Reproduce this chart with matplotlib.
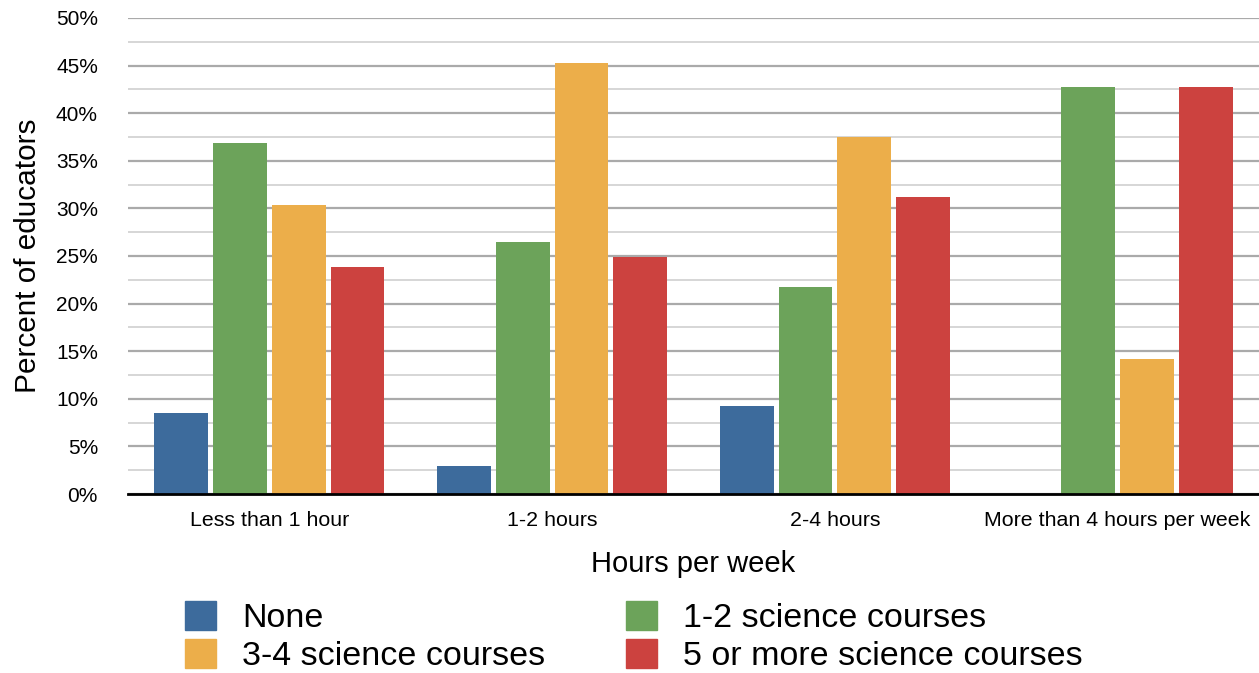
import matplotlib
matplotlib.use("Agg")
import matplotlib.pyplot as plt
import numpy as np
from matplotlib.patches import Patch

categories = ["Less than 1 hour", "1-2 hours", "2-4 hours", "More than 4 hours per week"]
series_names = ["None", "1-2 science courses", "3-4 science courses", "5 or more science courses"]
none_vals = [8.5, 2.9, 9.2, 0.0]
one_two_vals = [36.9, 26.5, 21.7, 42.8]
three_four_vals = [30.4, 45.3, 37.5, 14.2]
five_plus_vals = [23.8, 24.9, 31.2, 42.8]
colors = ["#3d6b9c", "#6ca35a", "#ecae4a", "#cc423f"]
y_ticks = [0, 5, 10, 15, 20, 25, 30, 35, 40, 45, 50]

plt.rcParams['font.family'] = ['Liberation Sans', 'DejaVu Sans']

fig = plt.figure(figsize=(12.59, 6.73), dpi=100)
ax = fig.add_axes([128/1259, 1 - 494/673, 1 - 128/1259, (494 - 18)/673])

x = np.arange(len(categories))
pitch = 0.208
width = 0.19
all_vals = [none_vals, one_two_vals, three_four_vals, five_plus_vals]
for i, (vals, c, name) in enumerate(zip(all_vals, colors, series_names)):
    ax.bar(x + (i - 1.5) * pitch, vals, width=width, color=c, label=name, zorder=3)

ax.set_xlim(-0.5, 3.5)
ax.set_ylim(0, 50)
ax.set_yticks(y_ticks)
ax.set_yticklabels([f"{t}%" for t in y_ticks])
ax.set_yticks(np.arange(2.5, 50, 5), minor=True)
ax.grid(axis='y', which='major', color='#aaaaaa', linewidth=1.6, zorder=0)
ax.grid(axis='y', which='minor', color='#cccccc', linewidth=1.1, zorder=0)
ax.tick_params(axis='y', which='both', length=0, labelsize=15, pad=21.6)
ax.tick_params(axis='x', length=0, labelsize=15.4, pad=12)
ax.set_xticks(x)
ax.set_xticklabels(categories)
for s in ['top', 'right', 'left']:
    ax.spines[s].set_visible(False)
ax.spines['bottom'].set_color('black')
ax.spines['bottom'].set_linewidth(2)
ax.spines['bottom'].set_zorder(4)

ax.set_ylabel("Percent of educators", fontsize=21.4, labelpad=10)
ax.set_xlabel("Hours per week", fontsize=21, labelpad=15)

fs = 24.5
leg_kw = dict(frameon=False, fontsize=fs, handlelength=0.92, handleheight=0.92,
              handletextpad=0.75, labelspacing=0.15, borderaxespad=0, borderpad=0,
              loc='upper left')
fig.legend([Patch(color=colors[0]), Patch(color=colors[2])],
           [series_names[0], series_names[2]],
           bbox_to_anchor=(185/1259, 1 - 601/673), **leg_kw)
fig.legend([Patch(color=colors[1]), Patch(color=colors[3])],
           [series_names[1], series_names[3]],
           bbox_to_anchor=(626/1259, 1 - 601/673), **leg_kw)

fig.savefig("out.png", dpi=100)
